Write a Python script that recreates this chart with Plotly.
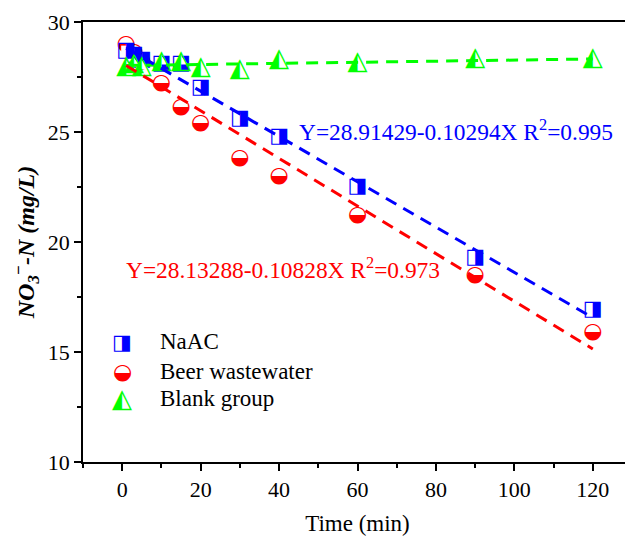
import plotly.graph_objects as go

# ---- data ----
time_min = [1, 3, 5, 10, 15, 20, 30, 40, 60, 90, 120]
naac = [28.7, 28.5, 28.3, 28.1, 28.1, 27.0, 25.6, 24.8, 22.5, 19.3, 16.9]
beer = [29.0, 28.6, 28.2, 27.2, 26.1, 25.4, 23.8, 23.0, 21.2, 18.5, 15.9]
blank = [28.0, 28.1, 28.0, 28.2, 28.2, 27.95, 27.85, 28.3, 28.15, 28.35, 28.35]

# fitted lines (intercept, slope) as printed on the chart; blank estimated
fit_naac = [28.91429, -0.10294]
fit_beer = [28.13288, -0.10828]
fit_blank = [28.02, 0.0025]
fit_t = [1, 120]

series_names = ["NaAC", "Beer wastewater", "Blank group"]
eq_naac = "Y=28.91429-0.10294X R<sup>2</sup>=0.995"
eq_beer = "Y=28.13288-0.10828X R<sup>2</sup>=0.973"

BLUE = "#0000FF"
RED = "#FF0000"
GREEN = "#00FF00"
SERIF = "Liberation Serif, Times New Roman, serif"
GLYPHFONT = "DejaVu Sans"

glyph_sq = "\u25E8"   # square right half filled
glyph_ci = "\u25D2"   # circle lower half filled
glyph_tr = "\u25ED"   # triangle left half filled

fig = go.Figure()

def add_series(y, glyph, color, under_symbol, under_size, gsize):
    fig.add_trace(go.Scatter(x=time_min, y=y, mode="markers",
                             marker=dict(symbol=under_symbol, size=under_size, color="white",
                                         line=dict(width=0)),
                             showlegend=False, hoverinfo="skip"))
    fig.add_trace(go.Scatter(x=time_min, y=y, mode="text", text=[glyph] * len(y),
                             textposition="middle center",
                             textfont=dict(family=GLYPHFONT, size=gsize, color=color),
                             showlegend=False))

SQ, CI, TR = 21, 22, 26
add_series(beer, glyph_ci, RED, "circle", 13, CI)
add_series(naac, glyph_sq, BLUE, "square", 10, SQ)
add_series(blank, glyph_tr, GREEN, "triangle-up", 12, TR)

def fit_line(coef, color):
    ys = [coef[0] + coef[1] * t for t in fit_t]
    fig.add_trace(go.Scatter(x=fit_t, y=ys, mode="lines",
                             line=dict(color=color, width=3, dash="12px,8px"),
                             showlegend=False, hoverinfo="skip"))

fit_line(fit_blank, GREEN)
fit_line(fit_beer, RED)
fit_line(fit_naac, BLUE)

annotations = [
    dict(x=44.5, y=25.1, xref="x", yref="y", text=eq_naac, showarrow=False,
         xanchor="left", yanchor="middle", font=dict(family=SERIF, size=23.4, color=BLUE)),
    dict(x=0.4, y=18.82, xref="x", yref="y", text=eq_beer, showarrow=False,
         xanchor="left", yanchor="middle", font=dict(family=SERIF, size=23.4, color=RED)),
]
# legend built manually
leg_glyphs = [glyph_sq, glyph_ci, glyph_tr]
leg_colors = [BLUE, RED, GREEN]
leg_sizes = [SQ, CI, TR]
leg_y = [0.2737, 0.2056, 0.1453]
for g, c, s, yy, name in zip(leg_glyphs, leg_colors, leg_sizes, leg_y, series_names):
    annotations.append(dict(x=0.0718, y=yy, xref="paper", yref="paper", text=g, showarrow=False,
                            xanchor="center", yanchor="middle",
                            font=dict(family=GLYPHFONT, size=s, color=c)))
    annotations.append(dict(x=0.1367, y=yy, xref="paper", yref="paper", text=name, showarrow=False,
                            xanchor="left", yanchor="middle",
                            font=dict(family=SERIF, size=23, color="black")))

axis_common = dict(showgrid=False, zeroline=False, showline=True, linewidth=1.5,
                   linecolor="black", mirror=True, ticks="outside", ticklen=7,
                   tickwidth=1.5, tickcolor="black", automargin=False,
                   tickfont=dict(family=SERIF, size=22, color="black"))

fig.update_layout(
    width=633, height=537,
    margin=dict(l=75, r=9, t=14, b=83),
    paper_bgcolor="white", plot_bgcolor="white",
    annotations=annotations,
    xaxis=dict(range=[-10, 130], tick0=0, dtick=20,
               minor=dict(dtick=10, ticks="outside", ticklen=4, tickwidth=1.5, tickcolor="black"),
               title=dict(text="Time (min)", font=dict(family=SERIF, size=23, color="black"), standoff=14),
               **axis_common),
    yaxis=dict(range=[10, 30], tick0=10, dtick=5,
               minor=dict(dtick=2.5, ticks="outside", ticklen=4, tickwidth=1.5, tickcolor="black"),
               title=dict(text="<b><i>NO<sub>3</sub><sup>\u2212</sup>-N (mg/L)</i></b>",
                          font=dict(family=SERIF, size=24, color="black"), standoff=6),
               **axis_common),
    showlegend=False,
)

fig.write_html("out.html")
